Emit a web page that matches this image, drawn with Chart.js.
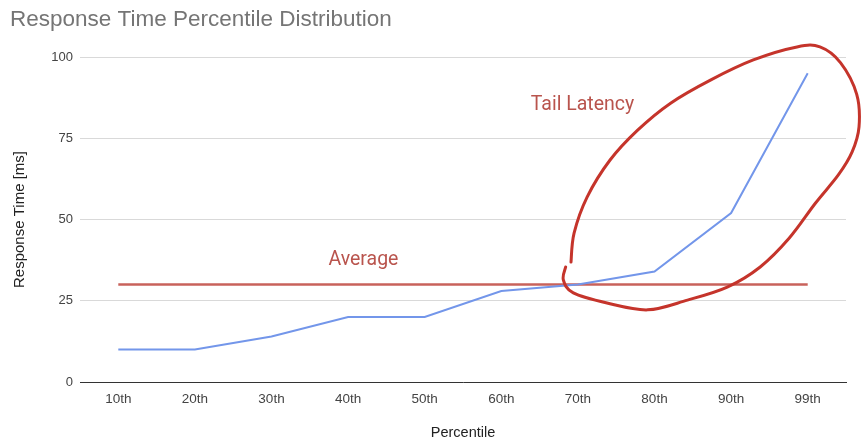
<!DOCTYPE html>
<html>
<head>
<meta charset="utf-8">
<script src="https://cdn.jsdelivr.net/npm/chart.js@4"></script>
<style>
  body { margin: 0; background: #fff; }
  #wrap { width: 862px; height: 445px; }
</style>
</head>
<body>
<div id="wrap"><canvas id="myChart" width="862" height="445"></canvas></div>
<script>
const percentiles = ['10th', '20th', '30th', '40th', '50th', '60th', '70th', '80th', '90th', '99th']
const responseTimes = [10, 10, 14, 20, 20, 28, 30, 34, 52, 95]
const averageValue = 30
const averageLine = percentiles.map(() => averageValue)
const yTicks = [0, 25, 50, 75, 100]

// hand drawn circle round the tail, as [category index, value]
const tailLoop = [
  [5.91, 36.9], [5.95, 45.8], [6.12, 56.9], [6.42, 68.3], [6.78, 77.5],
  [7.21, 85.8], [7.73, 92.9], [8.29, 99.1], [8.86, 103.1], [9.16, 103.1],
  [9.43, 98.2], [9.64, 88.5], [9.67, 78.5], [9.58, 70.8], [9.40, 63.7],
  [9.10, 55.0], [8.76, 44.3], [8.38, 35.4], [7.95, 29.2], [7.43, 25.2],
  [6.91, 22.2], [6.38, 24.3], [5.94, 27.4], [5.81, 31.4], [5.84, 35.4]
]
const notes = [
  { text: 'Average', at: [3.2, 37.5] },
  { text: 'Tail Latency', at: [6.06, 85.2] }
]

const sketchPlugin = {
  id: 'sketch',
  afterDatasetsDraw(chart) {
    const ctx = chart.ctx
    const x = chart.scales.x
    const y = chart.scales.y
    const pts = tailLoop.map(p => [x.getPixelForValue(p[0]), y.getPixelForValue(p[1])])
    ctx.save()
    ctx.strokeStyle = '#c5342b'
    ctx.lineWidth = 3
    ctx.lineCap = 'round'
    ctx.lineJoin = 'round'
    ctx.beginPath()
    ctx.moveTo(pts[0][0], pts[0][1])
    for (let i = 0; i < pts.length - 1; i++) {
      const p0 = pts[Math.max(i - 1, 0)]
      const p1 = pts[i]
      const p2 = pts[i + 1]
      const p3 = pts[Math.min(i + 2, pts.length - 1)]
      ctx.bezierCurveTo(
        p1[0] + (p2[0] - p0[0]) / 6, p1[1] + (p2[1] - p0[1]) / 6,
        p2[0] - (p3[0] - p1[0]) / 6, p2[1] - (p3[1] - p1[1]) / 6,
        p2[0], p2[1])
    }
    ctx.stroke()

    ctx.fillStyle = '#b9544d'
    ctx.font = '19.5px Roboto'
    ctx.textAlign = 'center'
    ctx.textBaseline = 'middle'
    notes.forEach(n => {
      ctx.fillText(n.text, x.getPixelForValue(n.at[0]), y.getPixelForValue(n.at[1]))
    })
    ctx.restore()
  }
}

const data = {
  labels: percentiles,
  datasets: [
    {
      label: 'Response Time',
      data: responseTimes,
      borderColor: '#7396ea',
      borderWidth: 2,
      pointRadius: 0,
      tension: 0
    },
    {
      label: 'Average',
      data: averageLine,
      borderColor: '#c8625b',
      borderWidth: 2.5,
      pointRadius: 0,
      tension: 0
    }
  ]
}

const font = 'Arial, "Liberation Sans"'

const config = {
  type: 'line',
  data: data,
  options: {
    responsive: false,
    animation: false,
    layout: { padding: { left: 10, right: 16, top: 0, bottom: 0 } },
    plugins: {
      legend: { display: false },
      tooltip: { enabled: false },
      title: {
        display: true,
        text: 'Response Time Percentile Distribution',
        align: 'start',
        color: '#757575',
        font: { family: font, size: 22.5, weight: 'normal' },
        padding: { top: 6, bottom: 24 }
      }
    },
    scales: {
      x: {
        offset: true,
        grid: { display: false, drawTicks: false },
        border: { color: '#333', width: 1 },
        ticks: { color: '#444', font: { family: font, size: 13.5 }, padding: 9, maxRotation: 0 },
        title: { display: true, text: 'Percentile', color: '#222', font: { family: font, size: 14.5 }, padding: { top: 18, bottom: 3 } },
        afterFit: (s) => { s.height = 63 }
      },
      y: {
        min: 0,
        max: 100,
        afterBuildTicks: (s) => { s.ticks = yTicks.map(v => ({ value: v })) },
        grid: { color: '#d9d9d9', drawTicks: false },
        border: { display: false },
        ticks: { color: '#444', font: { family: font, size: 13 }, padding: 7 },
        title: { display: true, text: 'Response Time [ms]', color: '#222', font: { family: font, size: 15 }, padding: { top: 1, bottom: 4 } },
        afterFit: (s) => { s.width = 70 }
      }
    }
  },
  plugins: [sketchPlugin]
}

const myChart = new Chart(document.getElementById('myChart'), config)
</script>
</body>
</html>
